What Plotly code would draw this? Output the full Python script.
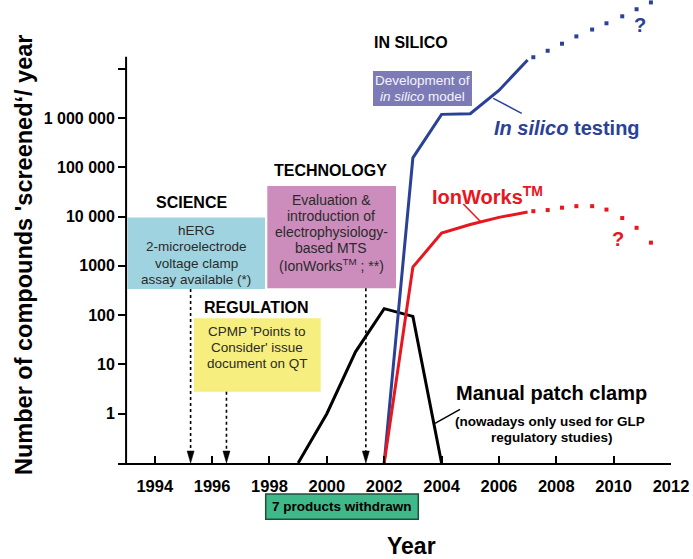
import plotly.graph_objects as go

# ---------------- data ----------------
patch_years = [1999, 2000, 2001, 2002, 2003, 2004]
patch_values = [0.1, 1.0, 18, 135, 94, 0.1]

insilico_years = [2002, 2003, 2004, 2005, 2006, 2007]
insilico_values = [0.1, 155000, 1180000, 1220000, 3600000, 15000000]
insilico_proj_years = [2007.2, 2007.7, 2008.2, 2008.7, 2009.25, 2009.75, 2010.3, 2010.8, 2011.3]
insilico_proj_values = [1.7e7, 2.3e7, 3.2e7, 4.5e7, 6.2e7, 8.3e7, 1.15e8, 1.6e8, 2.2e8]

ionworks_years = [2002, 2003, 2004, 2005, 2006, 2007]
ionworks_values = [0.1, 940, 4600, 6900, 9600, 12300]
ionworks_proj_years = [2007.2, 2007.7, 2008.2, 2008.7, 2009.25, 2009.75, 2010.3, 2010.8, 2011.3]
ionworks_proj_values = [12800, 13500, 15100, 16200, 16200, 13800, 9300, 5900, 2950]

x_ticks = list(range(1994, 2013, 2))
y_tickvals = [1, 10, 100, 1000, 10000, 100000, 1000000, 10000000]
y_ticktext = ["1", "10", "100", "1000", "10 000", "100 000", "1 000 000", " "]

event_years = [1995.25, 1996.5, 2001.36]   # science, regulation, technology arrows

# ---------------- geometry helpers ----------------
W, H = 693, 559
L, R, T, B = 118, 671, 0, 463
PW, PH = R - L, B - T
PX_PER_YEAR = 28.68
X_MAX = 2012
X_MIN = X_MAX - PW / PX_PER_YEAR
PX_PER_DEC = 49.3
Y_MIN = -1
Y_MAX = Y_MIN + PH / PX_PER_DEC
AXIS_TOP_PX = 56.7


def xp(px):
    return (px - L) / PW


def yp(py):
    return (B - py) / PH


def xyear(year):
    return (year - X_MIN) / (X_MAX - X_MIN)


FONT = "Liberation Sans, Arial, Helvetica, sans-serif"
BLUE = "#2b4196"
RED = "#e8161e"
BLACK = "#000000"

fig = go.Figure()

fig.add_trace(go.Scatter(x=patch_years, y=patch_values, mode="lines",
                         line=dict(color=BLACK, width=3), showlegend=False,
                         hoverinfo="skip"))
fig.add_trace(go.Scatter(x=insilico_years, y=insilico_values, mode="lines",
                         line=dict(color=BLUE, width=3), showlegend=False,
                         hoverinfo="skip"))
fig.add_trace(go.Scatter(x=ionworks_years, y=ionworks_values, mode="lines",
                         line=dict(color=RED, width=3), showlegend=False,
                         hoverinfo="skip"))
fig.add_trace(go.Scatter(x=insilico_proj_years, y=insilico_proj_values, mode="markers",
                         marker=dict(color=BLUE, size=4, symbol="square"),
                         cliponaxis=False, showlegend=False, hoverinfo="skip"))
fig.add_trace(go.Scatter(x=ionworks_proj_years, y=ionworks_proj_values, mode="markers",
                         marker=dict(color=RED, size=4, symbol="square"),
                         cliponaxis=False, showlegend=False, hoverinfo="skip"))

shapes = []
annotations = []


def box(x0, y0, x1, y1, color, border=None):
    shapes.append(dict(type="rect", xref="paper", yref="paper",
                       x0=xp(x0), x1=xp(x1), y0=yp(y1), y1=yp(y0),
                       fillcolor=color,
                       line=dict(width=1.5 if border else 0, color=border or color),
                       layer="below"))


def text(s, x, y, size, color="#222222", bold=False, xanchor="center", angle=0):
    if bold:
        s = "<b>" + s + "</b>"
    annotations.append(dict(text=s, xref="paper", yref="paper", x=xp(x), y=yp(y),
                            xanchor=xanchor, yanchor="middle", showarrow=False,
                            textangle=angle,
                            font=dict(family=FONT, size=size, color=color)))


def seg(x0, y0, x1, y1, color, width=1.5, dash="solid"):
    shapes.append(dict(type="line", xref="paper", yref="paper",
                       x0=xp(x0), y0=yp(y0), x1=xp(x1), y1=yp(y1),
                       line=dict(color=color, width=width, dash=dash)))


# y axis line (drawn as shape so the plot area can extend to the top)
shapes.append(dict(type="line", xref="paper", yref="paper",
                   x0=xyear(1993), x1=xyear(1993), y0=0, y1=yp(AXIS_TOP_PX),
                   line=dict(color=BLACK, width=2)))

# boxes
box(373, 71, 472, 106, "#7d7ab8")
box(267.3, 186, 396, 288.3, "#cc8dbd")
box(127.5, 217.5, 265, 289, "#9fd3e0")
box(194, 318.3, 320.7, 391.7, "#f6ee7e")
box(265.7, 494, 418.3, 519.3, "#3fb88a", border="#1f4f3c")

# headers
text("IN SILICO", 410.5, 43, 16, BLACK, True)
text("TECHNOLOGY", 330.7, 170.7, 16, BLACK, True)
text("SCIENCE", 191.7, 202.7, 16, BLACK, True)
text("REGULATION", 256, 308, 16, BLACK, True)

# box contents
text("Development of", 422.7, 80, 13.5, "#f4f4f8")
text("<i>in silico</i> model", 422.7, 96.5, 13.5, "#f4f4f8")
for s, y in zip(["Evaluation &", "introduction of", "electrophysiology-", "based MTS",
                 "(IonWorks<sup>TM</sup> ; **)"], [200, 215.5, 232, 248.3, 265]):
    text(s, 331, y, 14, "#2a2a2a")
for s, y in zip(["hERG", "2-microelectrode", "voltage clamp", "assay available (*)"],
                [230, 246.5, 263, 279.3]):
    text(s, 196, y, 13.5, "#2a2a2a")
for s, y in zip(["CPMP 'Points to", "Consider' issue", "document on QT"],
                [331.7, 347.5, 363.5]):
    text(s, 257, y, 13.5, "#2a2a2a")
text("7 products withdrawn", 342, 506.7, 13.5, BLACK, True)

# series labels
text("<i>In silico</i> testing", 567.3, 128.3, 20, BLUE, True)
text("IonWorks<sup>TM</sup>", 430, 195, 20, RED, True, xanchor="left")
text("Manual patch clamp", 551.5, 393, 20, BLACK, True)
text("(nowadays only used for GLP", 550.3, 421.7, 13.5, BLACK, True)
text("regulatory studies)", 551.7, 437.3, 13.5, BLACK, True)
text("?", 640, 25, 20, BLUE, True)
text("?", 618.3, 239.3, 20, RED, True)

# leader lines
seg(493.3, 98.3, 521.7, 113.3, BLUE)
seg(463.3, 204, 480.7, 221.7, RED)
seg(435, 423.3, 460, 409.3, BLACK)

# axis titles
text("Year", 411, 546, 23, BLACK, True)
text("Number of compounds 'screened\u2018/ year", 24, 255, 23.5, BLACK, True, angle=-90)

# dotted event arrows
starts = [289, 391.7, 288.3]
for yr, ys in zip(event_years, starts):
    xx = xyear(yr)
    shapes.append(dict(type="line", xref="paper", yref="paper",
                       x0=xx, x1=xx, y0=yp(ys), y1=yp(452),
                       line=dict(color=BLACK, width=1.6, dash="dot")))
    hw = 3.5 / PW
    shapes.append(dict(type="path", xref="paper", yref="paper",
                       path=f"M {xx - hw},{yp(451)} L {xx + hw},{yp(451)} L {xx},{yp(463)} Z",
                       fillcolor=BLACK, line=dict(color=BLACK, width=0.5)))

fig.update_layout(
    width=W, height=H, autosize=False,
    margin=dict(l=L, r=W - R, t=T, b=H - B, pad=0),
    paper_bgcolor="white", plot_bgcolor="white",
    shapes=shapes, annotations=annotations,
    font=dict(family=FONT, color=BLACK),
    xaxis=dict(range=[X_MIN, X_MAX], tickvals=x_ticks, ticktext=[str(t) for t in x_ticks],
               ticks="inside", ticklen=7, tickwidth=2, tickcolor=BLACK,
               showline=True, linewidth=2, linecolor=BLACK,
               showgrid=False, zeroline=False, ticklabelstandoff=7,
               tickfont=dict(family=FONT, size=16.5, color=BLACK, weight="bold")),
    yaxis=dict(type="log", range=[Y_MIN, Y_MAX], tickvals=y_tickvals, ticktext=y_ticktext,
               anchor="free", position=xyear(1993),
               ticks="outside", ticklen=8, tickwidth=2, tickcolor=BLACK,
               showline=False,
               showgrid=False, zeroline=False,
               tickfont=dict(family=FONT, size=16, color=BLACK, weight="bold")),
)

fig.write_html("out.html", config={"displayModeBar": False},
               post_script="document.body.style.margin='0';document.body.style.padding='0';")
